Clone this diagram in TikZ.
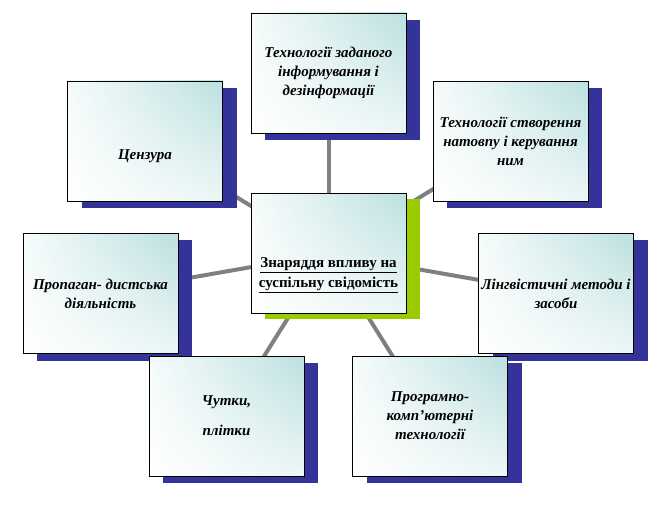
\documentclass[tikz,border=0pt]{standalone}
\usepackage{fontspec}
\setmainfont{Liberation Serif}
\usetikzlibrary{shadows,shadings}
\pgfdeclarelayer{bg}
\pgfsetlayers{bg,main}
\definecolor{shblue}{RGB}{51,51,153}
\definecolor{shgreen}{RGB}{153,204,0}
\definecolor{ulc}{RGB}{246,251,251}
\definecolor{urc}{RGB}{188,224,224}
\definecolor{lrc}{RGB}{236,246,246}
\definecolor{conngray}{RGB}{128,128,128}
\begin{document}
\begin{tikzpicture}[x=1pt,y=-1pt,
  basebox/.style={draw=black, line width=0.8pt, minimum width=155pt, minimum height=120pt,
    inner sep=0pt, align=center, shade, upper left=ulc, upper right=urc,
    lower left=white, lower right=lrc},
  box/.style={basebox, font=\fontsize{15}{19}\selectfont\bfseries\itshape,
    drop shadow={shadow xshift=14pt, shadow yshift=-7pt, fill=shblue, opacity=1}},
  hub/.style={basebox, font=\fontsize{15}{20}\selectfont\bfseries,
    drop shadow={shadow xshift=14pt, shadow yshift=-6pt, fill=shgreen, opacity=1}},
  conn/.style={draw=conngray, line width=4pt}
]
\useasboundingbox (0,0) rectangle (657,508);
\node[hub] (m) at (328.5,253.5) {\rule{0pt}{53pt}\underline{Знаряддя впливу на}\\\underline{суспільну свідомість}};
\node[box] (t) at (328.5,73) {Технології заданого\\інформування і\\дезінформації};
\node[box] (tr) at (510.5,141.5) {Технології створення\\натовпу і керування\\ним};
\node[box] (c) at (145,141) {\rule{0pt}{41pt}Цензура};
\node[box] (l) at (100.5,293.5) {Пропаган- дистська\\діяльність};
\node[box] (r) at (556,293.5) {Лінгвістичні методи і\\засоби};
\node[box] (ch) at (226.5,416) {Чутки,\\[11pt]плітки};
\node[box] (p) at (430,416) {Програмно-\\комп’ютерні\\технології};
\begin{pgfonlayer}{bg}
\draw[conn] (m.center) -- (t.center);
\draw[conn] (m.center) -- (tr.center);
\draw[conn] (m.center) -- (c.center);
\draw[conn] (m.center) -- (l.center);
\draw[conn] (m.center) -- (r.center);
\draw[conn] (m.center) -- (ch.center);
\draw[conn] (m.center) -- (p.center);
\end{pgfonlayer}
\end{tikzpicture}
\end{document}
